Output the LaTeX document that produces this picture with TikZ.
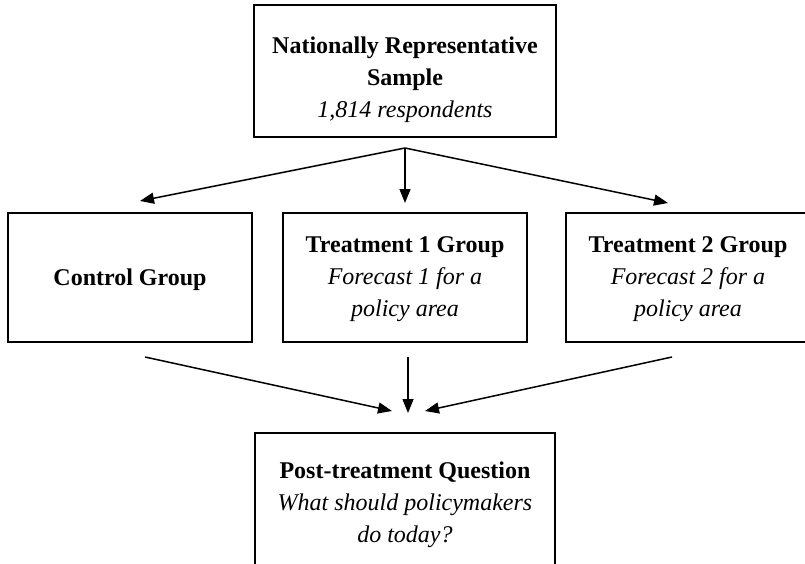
\documentclass[tikz,border=0pt]{standalone}
\usepackage{fontspec}
\setmainfont{Liberation Serif}
\usetikzlibrary{positioning,arrows.meta}

\begin{document}
\begin{tikzpicture}[x=1pt, y=-1pt,
    box/.style={draw, line width=1.6pt, outer sep=0pt, inner sep=0pt,
      minimum width=244pt, minimum height=129pt},
    txt/.style={align=center, font=\fontsize{24}{32}\selectfont},
    arr/.style={line width=1.5pt, -{Triangle[length=14pt, width=11pt]}}]
  \useasboundingbox (0,0) rectangle (805,564);
  % boxes
  \node[box, minimum width=302pt, minimum height=132pt] (sample) at (405,71) {};
  \node[box] (treat1) [below=76pt of sample] {};
  \node[box] (control) [left=31pt of treat1] {};
  \node[box] (treat2) [right=39pt of treat1] {};
  \node[box, minimum width=300pt, minimum height=150pt] (post) [below=91pt of treat1] {};
  % texts
  \node[txt] (sampletxt) at ([yshift=-9pt]sample.center)
    {\textbf{Nationally Representative}\\\textbf{Sample}\\\textit{1,814 respondents}};
  \node[txt] (controltxt) at ([yshift=-2pt]control.center) {\textbf{Control Group}};
  \node[txt] (treat1txt) at ([yshift=-2pt]treat1.center)
    {\textbf{Treatment 1 Group}\\\textit{Forecast 1 for a}\\\textit{policy area}};
  \node[txt] (treat2txt) at ([yshift=-2pt]treat2.center)
    {\textbf{Treatment 2 Group}\\\textit{Forecast 2 for a}\\\textit{policy area}};
  \node[txt] (posttxt) at ([yshift=-72pt]post.north)
    {\textbf{Post-treatment Question}\\\textit{What should policymakers}\\\textit{do today?}};
  % connectors
  \coordinate (split) at (405,148);
  \coordinate (tocontrol) at (140,201);
  \coordinate (totreat1) at (405,203);
  \coordinate (totreat2) at (668,203);
  \coordinate (fromcontrol) at (145,357);
  \coordinate (fromtreat1) at (408,357);
  \coordinate (fromtreat2) at (672,357);
  \coordinate (inleft) at (392,411);
  \coordinate (inmid) at (408,413);
  \coordinate (inright) at (425,411);
  \draw[arr] (split) -- (tocontrol);
  \draw[arr] (split) -- (totreat1);
  \draw[arr] (split) -- (totreat2);
  \draw[arr] (fromcontrol) -- (inleft);
  \draw[arr] (fromtreat1) -- (inmid);
  \draw[arr] (fromtreat2) -- (inright);
\end{tikzpicture}
\end{document}
